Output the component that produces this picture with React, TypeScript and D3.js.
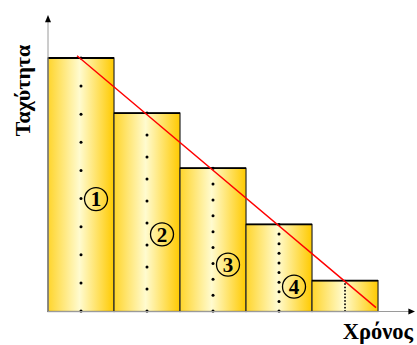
import React from "react";
import * as d3 from "d3";

// Data
const startTimes = [0, 1, 2, 3, 4];
const speeds = [4.6, 3.6, 2.6, 1.58, 0.56];
const labels = ["1", "2", "3", "4"];
const labelSpeeds = [2.04, 1.4, 0.85, 0.45];
const lineTimes = [0.44, 4.97];
const lineSpeeds = [4.64, 0.07];
const xTitle = "Χρόνος";
const yTitle = "Ταχύτητα";

const W = 417;
const H = 345;
const FONT = "'Liberation Serif', 'DejaVu Serif', serif";

export default function App() {
  const x = d3.scaleLinear().domain([0, 5.53]).range([48, 413]);
  const y = d3.scaleLinear().domain([0, 5.38]).range([311.5, 15]);
  const bw = x(1) - x(0);
  const line = d3
    .line<number>()
    .x((d, i) => x(lineTimes[i]))
    .y((d, i) => y(d));

  return (
    <svg
      width={W}
      height={H}
      style={{ position: "absolute", left: 0, top: 0, background: "#fff" }}
    >
      <defs>
        <linearGradient id="gold" x1="0" x2="1" y1="0" y2="0">
          <stop offset="0%" stopColor="#FFD52C" />
          <stop offset="48%" stopColor="#FFFBCF" />
          <stop offset="100%" stopColor="#FFCA00" />
        </linearGradient>
      </defs>

      {/* bars */}
      {startTimes.map((t, i) => (
        <rect
          key={"b" + i}
          x={x(t)}
          y={y(speeds[i])}
          width={bw}
          height={y(0) - y(speeds[i])}
          fill="url(#gold)"
          stroke="#2a2a2a"
          strokeWidth={1.2}
        />
      ))}
      {/* bar tops thicker */}
      {startTimes.map((t, i) => (
        <line
          key={"t" + i}
          x1={x(t)}
          x2={x(t + 1)}
          y1={y(speeds[i])}
          y2={y(speeds[i])}
          stroke="#000"
          strokeWidth={1.8}
        />
      ))}

      {/* dotted center lines */}
      {startTimes.map((t, i) => {
        const cx = x(t + 0.5);
        const top = y(speeds[i]);
        const bot = y(0) - 0.5;
        const step = (bot - top) / 9;
        return d3.range(10).map((k) => (
          <circle
            key={"d" + i + "-" + k}
            cx={cx}
            cy={top + k * step}
            r={step < 6 ? 0.9 : 1.5}
            fill="#000"
          />
        ));
      })}

      {/* axes */}
      <line x1={x(0)} x2={x(0)} y1={y(0)} y2={y(5.28)} stroke="#9a9a9a" strokeWidth={1} />
      <line x1={x(0)} x2={x(5.5)} y1={y(0)} y2={y(0)} stroke="#9a9a9a" strokeWidth={1} />
      <path
        d={`M${x(0)},${y(5.38)} L${x(0) - 3},${y(5.25)} L${x(0) + 3},${y(5.25)} Z`}
        fill="#000"
      />
      <path
        d={`M${x(5.56)},${y(0)} L${x(5.46)},${y(0) - 3} L${x(5.46)},${y(0) + 3} Z`}
        fill="#000"
      />

      {/* red line */}
      <path d={line(lineSpeeds) || ""} stroke="#ff0000" strokeWidth={1.4} fill="none" />

      {/* circled labels */}
      {labels.map((l, i) => {
        const cx = x(startTimes[i] + 0.5) + 15;
        const cy = y(labelSpeeds[i]);
        return (
          <g key={"l" + i}>
            <circle cx={cx} cy={cy} r={11.5} fill="none" stroke="#000" strokeWidth={1.3} />
            <text
              x={cx}
              y={cy + 7.2}
              textAnchor="middle"
              fontFamily={FONT}
              fontWeight="bold"
              fontSize={21}
              fill="#000"
            >
              {l}
            </text>
          </g>
        );
      })}

      {/* titles */}
      <text
        x={413}
        y={339}
        textAnchor="end"
        fontFamily={FONT}
        fontWeight="bold"
        fontSize={22.5}
        fill="#000"
      >
        {xTitle}
      </text>
      <text
        transform="translate(30,90.5) rotate(-90)"
        textAnchor="middle"
        fontFamily={FONT}
        fontWeight="bold"
        fontSize={22}
        fill="#000"
      >
        {yTitle}
      </text>
    </svg>
  );
}
